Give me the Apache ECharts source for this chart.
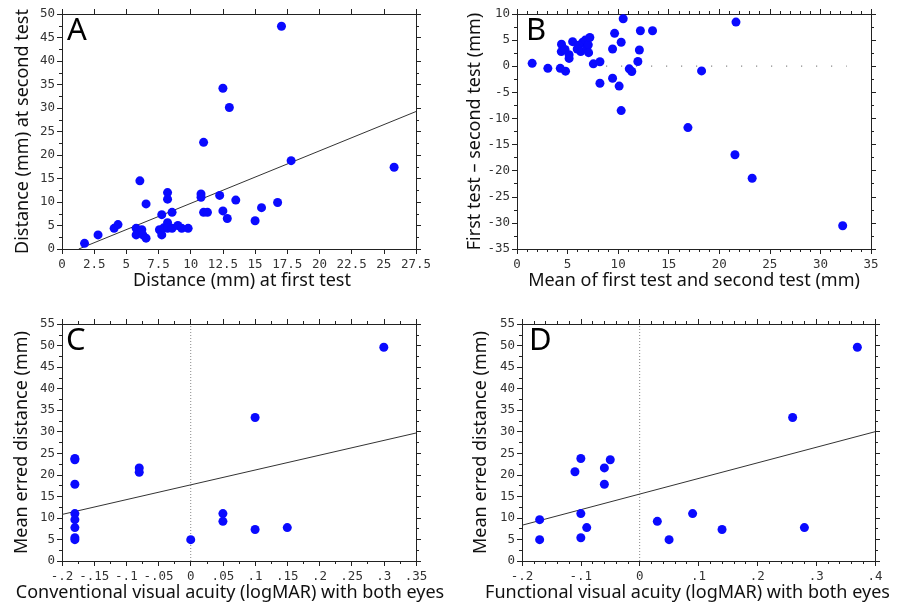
<!DOCTYPE html>
<html>
<head>
<meta charset="utf-8">
<script src="https://cdn.jsdelivr.net/npm/echarts@6/dist/echarts.min.js"></script>
<style>html,body{margin:0;padding:0;background:#fff;}#c{width:899px;height:609px;}</style>
</head>
<body>
<div id="c"></div>
<script>
// ---- Data ----
const panelLetters = ['A', 'B', 'C', 'D'];
const xTitles = ['Distance (mm) at first test', 'Mean of first test and second test (mm)',
  'Conventional visual acuity (logMAR) with both eyes', 'Functional visual acuity (logMAR) with both eyes'];
const yTitles = ['Distance (mm) at second test', 'First test \u2013 second test (mm)',
  'Mean erred distance (mm)', 'Mean erred distance (mm)'];

// Panel A: first test vs second test (mm)
const pointsA = [[1.75,1.2],[2.8,3.0],[4.05,4.4],[4.35,5.2],[5.76,4.4],[5.76,3.0],[6.05,14.5],[6.2,4.1],
  [6.28,3.0],[6.53,2.3],[6.53,9.6],[7.57,4.1],[7.75,7.3],[7.75,3.0],[7.9,4.5],[8.2,5.6],[8.2,12.0],
  [8.2,10.6],[8.2,4.4],[8.55,7.8],[8.55,4.4],[9.0,5.0],[9.3,4.4],[9.8,4.4],[11.0,22.7],[10.8,11.7],
  [10.8,11.0],[11.0,7.8],[11.3,7.8],[12.25,11.4],[12.5,34.2],[13.0,30.1],[12.5,8.1],[12.84,6.5],
  [13.5,10.4],[15.0,6.0],[15.5,8.8],[16.75,9.9],[17.05,47.4],[17.8,18.8],[25.8,17.4]];
const fitA = [[1.3,0],[27.5,29.25]];

// Panel B: Bland-Altman (mean vs difference)
const pointsB = [[1.5,0.55],[3.05,-0.4],[4.28,-0.4],[4.8,-0.95],[4.4,4.2],[4.38,2.8],[4.75,3.2],
  [5.15,1.5],[5.15,2.2],[5.5,4.7],[5.95,3.3],[6.1,4.0],[6.3,2.8],[6.5,4.6],[6.75,5.0],[6.9,3.5],
  [7.05,4.1],[7.2,5.5],[7.08,2.6],[7.55,0.45],[8.2,0.85],[8.2,-3.25],[9.45,-2.3],[9.45,3.3],
  [9.65,6.3],[10.1,-3.8],[10.3,4.6],[10.3,-8.5],[10.5,9.1],[11.1,-0.5],[11.35,-1.0],[11.95,0.9],
  [12.1,3.1],[12.2,6.8],[13.4,6.8],[16.9,-11.75],[18.25,-0.9],[21.55,-16.95],[21.65,8.45],
  [23.25,-21.45],[32.2,-30.55]];
const zeroLineB = [[8.8,0],[32.6,0]];

// Panel C: conventional VA vs mean erred distance
const pointsC = [[-0.18,23.8],[-0.18,23.5],[-0.18,17.8],[-0.18,11.0],[-0.18,9.6],[-0.18,7.75],
  [-0.18,5.4],[-0.18,4.96],[-0.08,21.6],[-0.08,20.6],[0,4.96],[0.05,11.0],[0.05,9.2],
  [0.1,33.3],[0.1,7.3],[0.15,7.75],[0.3,49.6]];
const fitC = [[-0.2,10.8],[0.35,29.7]];

// Panel D: functional VA vs mean erred distance
const pointsD = [[-0.17,9.6],[-0.17,4.96],[-0.11,20.7],[-0.1,23.8],[-0.1,11.0],[-0.1,5.4],
  [-0.09,7.75],[-0.06,21.6],[-0.06,17.8],[-0.05,23.5],[0.03,9.2],[0.05,4.96],[0.09,11.0],
  [0.14,7.3],[0.26,33.3],[0.28,7.75],[0.37,49.6]];
const fitD = [[-0.2,8.3],[0.4,30.0]];
const zeroLineVert = [[0,0],[0,55]];

// axis ranges: [min, max, interval, minorSplit]
const xRanges = [[0,27.5,2.5,0],[0,35,5,5],[-0.2,0.35,0.05,2],[-0.2,0.4,0.1,5]];
const yRanges = [[0,50,5,2],[-35,10,5,2],[0,55,5,2],[0,55,5,2]];

// ---- Layout ----
const grids = [
  {left:62, top:14, width:354, height:235},
  {left:517, top:14, width:354, height:235},
  {left:62, top:324, width:354, height:237},
  {left:522, top:324, width:353, height:237}
];
const yNameGaps = [30, 33, 31, 32];
const xNamePad = [[0,0,0,6],[0,0,0,0],[0,18,0,0],[0,22,0,0]];
const letterPos = [[67,16],[526,16],[66,326],[529,326]];

const AX = '#222';
const labelFont = {fontFamily:'DejaVu Sans Mono', fontSize:12.5, color:'#333'};
const nameFont = {fontFamily:'Noto Sans', fontSize:18, color:'#111'};

function fmtDec(v){
  let s = String(+(+v).toFixed(3));
  return s.replace(/^0\./, '.').replace(/^-0\./, '-.');
}

const xAxis = [], yAxis = [];
for (let i = 0; i < 4; i++) {
  const [xmin,xmax,xint,xm] = xRanges[i];
  const [ymin,ymax,yint,ym] = yRanges[i];
  const common = (pos, mn, mx, iv, ms, showLab, isX) => ({
    type:'value', gridIndex:i, position:pos, min:mn, max:mx, interval:iv,
    splitLine:{show:false},
    axisLine:{show:true, onZero:false, lineStyle:{color:AX, width:1}},
    axisTick:{show:true, inside:false, length:5, lineStyle:{color:AX}},
    minorTick:{show:ms>0, splitNumber:ms||1, length:3, lineStyle:{color:AX}},
    axisLabel: showLab ? Object.assign({show:true, margin: isX?9:7, showMinLabel:true, showMaxLabel:true,
      formatter: i>=2 && isX ? fmtDec : (v)=>String(+(+v).toFixed(3))}, labelFont) : {show:false}
  });
  const xb = common('bottom', xmin, xmax, xint, xm, true, true);
  xb.name = xTitles[i]; xb.nameLocation = 'middle'; xb.nameGap = 23;
  xb.nameTextStyle = Object.assign({padding:xNamePad[i]}, nameFont);
  xAxis.push(xb);
  xAxis.push(common('top', xmin, xmax, xint, xm, false, true));
  const yl = common('left', ymin, ymax, yint, ym, true, false);
  yl.name = yTitles[i]; yl.nameLocation = 'middle'; yl.nameGap = yNameGaps[i]; yl.nameTextStyle = nameFont;
  yAxis.push(yl);
  yAxis.push(common('right', ymin, ymax, yint, ym, false, false));
}

const scatterStyle = {color:'#0a0aff', opacity:1};
function lineSeries(i, data, style){
  return {type:'line', xAxisIndex:2*i, yAxisIndex:2*i, data:data, showSymbol:false, symbol:'none',
    silent:true, animation:false, lineStyle:style, z:1};
}
function scatterSeries(i, data){
  return {type:'scatter', xAxisIndex:2*i, yAxisIndex:2*i, data:data, symbolSize:9,
    itemStyle:scatterStyle, animation:false, z:3};
}

const fitStyle = {color:'#333', width:1};
const series = [
  lineSeries(0, fitA, fitStyle), scatterSeries(0, pointsA),
  lineSeries(1, zeroLineB, {color:'#888', width:1.2, type:[1.2,13.8]}), scatterSeries(1, pointsB),
  lineSeries(2, zeroLineVert, {color:'#888', width:1, type:[1,2]}), lineSeries(2, fitC, fitStyle), scatterSeries(2, pointsC),
  lineSeries(3, zeroLineVert, {color:'#888', width:1, type:[1,2]}), lineSeries(3, fitD, fitStyle), scatterSeries(3, pointsD)
];

const graphic = panelLetters.map((t, i) => ({
  type:'text', left:letterPos[i][0], top:letterPos[i][1], z:10,
  style:{text:t, font:'31px "Noto Sans"', fill:'#000'}
}));

const chart = echarts.init(document.getElementById('c'), null, {renderer:'canvas'});
chart.setOption({
  animation:false,
  backgroundColor:'#fff',
  grid: grids,
  xAxis: xAxis,
  yAxis: yAxis,
  series: series,
  graphic: graphic
});
</script>
</body>
</html>
